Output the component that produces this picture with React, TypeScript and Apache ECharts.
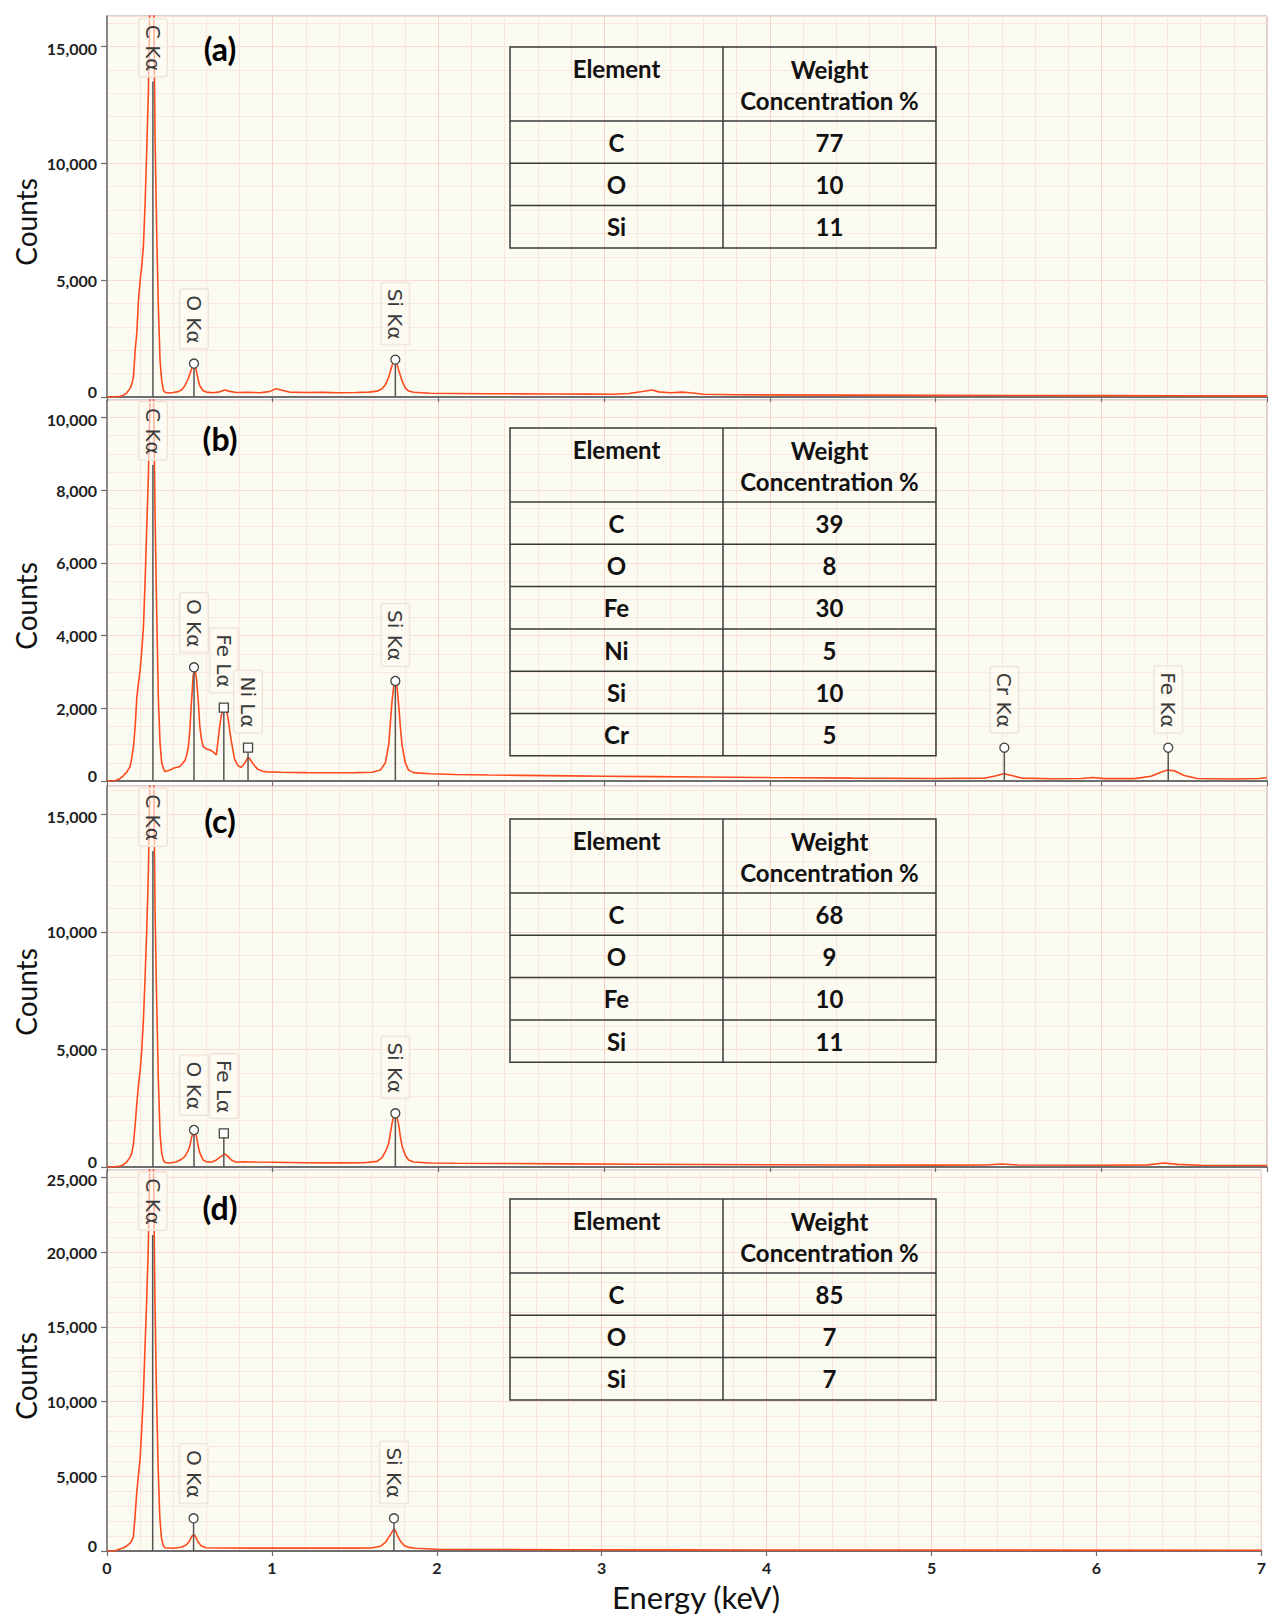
import React, { useEffect, useRef } from 'react';
import * as echarts from 'echarts';

// ---------- data ----------
// EDS spectra: [energy keV, counts]
const spectrumA: number[][] = [
  [0.00, 0], [0.05, 5], [0.08, 30], [0.10, 80], [0.12, 180], [0.14, 380], [0.15, 560], [0.16, 880],
  [0.17, 2000], [0.18, 2750], [0.19, 4150], [0.20, 5000], [0.21, 5600], [0.22, 6500], [0.23, 8300],
  [0.24, 10600], [0.25, 13150], [0.26, 17500], [0.27, 19800], [0.28, 18200], [0.29, 11100], [0.30, 7000],
  [0.31, 3850], [0.32, 1570], [0.33, 710], [0.34, 290], [0.35, 200], [0.37, 170], [0.40, 190], [0.43, 230],
  [0.45, 300], [0.47, 480], [0.49, 780], [0.51, 1200], [0.52, 1400], [0.53, 1380], [0.54, 1100], [0.55, 750],
  [0.56, 480], [0.58, 270], [0.60, 210], [0.64, 180], [0.68, 220], [0.71, 300], [0.74, 240], [0.78, 190],
  [0.85, 200], [0.92, 185], [0.98, 230], [1.02, 350], [1.05, 300], [1.10, 210], [1.20, 190], [1.30, 200],
  [1.40, 185], [1.50, 195], [1.58, 210], [1.63, 250], [1.66, 350], [1.68, 520], [1.70, 850], [1.72, 1350],
  [1.73, 1550], [1.74, 1560], [1.75, 1400], [1.76, 1150], [1.78, 700], [1.80, 380], [1.82, 260], [1.85, 200],
  [1.95, 160], [2.10, 150], [2.30, 140], [2.50, 135], [2.70, 130], [2.90, 125], [3.05, 120], [3.15, 150],
  [3.25, 260], [3.29, 300], [3.33, 220], [3.40, 180], [3.47, 210], [3.52, 180], [3.60, 120], [3.80, 95],
  [4.00, 90], [4.50, 80], [5.00, 70], [5.50, 65], [6.00, 60], [6.50, 55], [7.00, 50],
];

const spectrumB: number[][] = [
  [0.00, 0], [0.05, 5], [0.08, 70], [0.10, 150], [0.12, 250], [0.14, 400], [0.15, 650], [0.16, 950],
  [0.17, 1500], [0.18, 2300], [0.19, 2700], [0.20, 3050], [0.21, 3600], [0.22, 4250], [0.23, 5500],
  [0.24, 7000], [0.25, 8450], [0.26, 10700], [0.27, 12000], [0.28, 11000], [0.29, 7350], [0.30, 4600],
  [0.31, 2250], [0.32, 1050], [0.33, 500], [0.34, 350], [0.35, 260], [0.38, 300], [0.40, 350], [0.44, 400],
  [0.47, 560], [0.48, 700], [0.49, 900], [0.50, 1400], [0.51, 2200], [0.52, 2900], [0.53, 3100], [0.54, 2800],
  [0.55, 2250], [0.56, 1500], [0.57, 1150], [0.58, 950], [0.60, 880], [0.62, 860], [0.64, 800], [0.66, 720],
  [0.68, 1500], [0.69, 1800], [0.70, 2000], [0.71, 2080], [0.72, 1950], [0.73, 1750], [0.74, 1400],
  [0.75, 1100], [0.77, 600], [0.79, 420], [0.81, 380], [0.83, 480], [0.85, 650], [0.86, 620], [0.88, 480],
  [0.91, 320], [0.94, 270], [0.97, 250], [1.05, 240], [1.20, 230], [1.35, 225], [1.50, 230], [1.60, 240],
  [1.65, 300], [1.68, 500], [1.70, 1000], [1.72, 2200], [1.73, 2600], [1.74, 2750], [1.75, 2600], [1.76, 2100],
  [1.77, 1500], [1.78, 1000], [1.80, 500], [1.82, 300], [1.85, 230], [1.95, 200], [2.10, 180], [2.30, 165],
  [2.50, 155], [2.80, 140], [3.00, 130], [3.30, 120], [3.60, 110], [4.00, 95], [4.50, 80], [5.00, 70],
  [5.30, 80], [5.36, 140], [5.41, 200], [5.46, 150], [5.52, 80], [5.70, 60], [5.88, 70], [5.95, 95],
  [6.02, 65], [6.20, 65], [6.30, 130], [6.36, 240], [6.40, 300], [6.44, 280], [6.50, 150], [6.58, 70],
  [6.80, 55], [6.95, 70], [7.00, 90],
];

const spectrumC: number[][] = [
  [0.00, 0], [0.05, 5], [0.08, 40], [0.10, 100], [0.12, 220], [0.14, 430], [0.15, 600], [0.16, 1000],
  [0.17, 1800], [0.18, 2700], [0.19, 3500], [0.20, 4100], [0.21, 5000], [0.22, 6300], [0.23, 8100],
  [0.24, 10100], [0.25, 12600], [0.26, 17000], [0.27, 19500], [0.28, 18000], [0.29, 10900], [0.30, 6950],
  [0.31, 3700], [0.32, 1420], [0.33, 600], [0.34, 300], [0.35, 190], [0.38, 170], [0.42, 220], [0.45, 330],
  [0.47, 450], [0.49, 700], [0.50, 900], [0.51, 1250], [0.52, 1450], [0.53, 1500], [0.54, 1300], [0.55, 900],
  [0.56, 600], [0.58, 300], [0.60, 220], [0.63, 200], [0.66, 300], [0.69, 450], [0.71, 560], [0.73, 450],
  [0.75, 300], [0.78, 200], [0.82, 220], [0.90, 210], [1.00, 200], [1.20, 180], [1.40, 175], [1.55, 180],
  [1.63, 240], [1.66, 400], [1.68, 650], [1.70, 1000], [1.72, 1850], [1.73, 2150], [1.74, 2250], [1.75, 2100],
  [1.76, 1800], [1.77, 1300], [1.78, 900], [1.80, 500], [1.82, 300], [1.85, 210], [1.95, 170], [2.10, 160],
  [2.40, 150], [2.80, 135], [3.20, 120], [3.60, 105], [4.00, 95], [4.50, 85], [5.00, 80], [5.30, 85],
  [5.40, 130], [5.50, 85], [6.00, 75], [6.28, 90], [6.38, 170], [6.46, 110], [6.60, 75], [7.00, 65],
];

const spectrumD: number[][] = [
  [0.00, 0], [0.05, 10], [0.08, 150], [0.10, 200], [0.12, 350], [0.14, 520], [0.15, 700], [0.16, 960],
  [0.17, 2300], [0.18, 3850], [0.19, 5000], [0.20, 6100], [0.21, 8000], [0.22, 10300], [0.23, 13450],
  [0.24, 16600], [0.25, 20150], [0.26, 26500], [0.27, 30000], [0.28, 28000], [0.29, 17250], [0.30, 10550],
  [0.31, 5650], [0.32, 2300], [0.33, 900], [0.34, 400], [0.35, 220], [0.40, 180], [0.45, 250], [0.48, 400],
  [0.50, 650], [0.51, 900], [0.52, 1050], [0.53, 1070], [0.54, 900], [0.55, 650], [0.57, 350], [0.60, 220],
  [0.70, 200], [0.90, 195], [1.10, 200], [1.30, 190], [1.50, 190], [1.60, 200], [1.66, 320], [1.69, 600],
  [1.71, 950], [1.73, 1300], [1.74, 1450], [1.75, 1350], [1.76, 1050], [1.78, 650], [1.80, 380], [1.83, 240],
  [1.87, 180], [2.00, 120], [2.30, 100], [2.80, 85], [3.50, 75], [4.50, 65], [5.50, 60], [7.00, 55],
];

// peak markers: energy, marker height (counts), symbol, label
type Peak = { e: number; y: number; sym: 'none' | 'circle' | 'square'; label: string };
const peaksA: Peak[] = [
  { e: 0.277, y: 13500, sym: 'none', label: 'C Kα' },
  { e: 0.525, y: 1430, sym: 'circle', label: 'O Kα' },
  { e: 1.740, y: 1600, sym: 'circle', label: 'Si Kα' },
];
const peaksB: Peak[] = [
  { e: 0.277, y: 8700, sym: 'none', label: 'C Kα' },
  { e: 0.525, y: 3127, sym: 'circle', label: 'O Kα' },
  { e: 0.705, y: 2016, sym: 'square', label: 'Fe Lα' },
  { e: 0.851, y: 916, sym: 'square', label: 'Ni Lα' },
  { e: 1.740, y: 2751, sym: 'circle', label: 'Si Kα' },
  { e: 5.415, y: 916, sym: 'circle', label: 'Cr Kα' },
  { e: 6.404, y: 916, sym: 'circle', label: 'Fe Kα' },
];
const peaksC: Peak[] = [
  { e: 0.277, y: 13440, sym: 'none', label: 'C Kα' },
  { e: 0.525, y: 1573, sym: 'circle', label: 'O Kα' },
  { e: 0.705, y: 1433, sym: 'square', label: 'Fe Lα' },
  { e: 1.740, y: 2283, sym: 'circle', label: 'Si Kα' },
];
const peaksD: Peak[] = [
  { e: 0.277, y: 21150, sym: 'none', label: 'C Kα' },
  { e: 0.525, y: 2188, sym: 'circle', label: 'O Kα' },
  { e: 1.740, y: 2188, sym: 'circle', label: 'Si Kα' },
];

// composition tables
const elementsA = ['C', 'O', 'Si'];
const weightsA = [77, 10, 11];
const elementsB = ['C', 'O', 'Fe', 'Ni', 'Si', 'Cr'];
const weightsB = [39, 8, 30, 5, 10, 5];
const elementsC = ['C', 'O', 'Fe', 'Si'];
const weightsC = [68, 9, 10, 11];
const elementsD = ['C', 'O', 'Si'];
const weightsD = [85, 7, 7];

const panelLetters = ['(a)', '(b)', '(c)', '(d)'];
const yMaxes = [16300, 10480, 16200, 25500];
const yIntervals = [5000, 2000, 5000, 5000];
const yMinorIntervals = [1000, 500, 1000, 1000];
const xTicks = { min: 0, max: 7, interval: 1 };

// ---------- layout ----------
const W = 1269;
const H = 1615;
const GRID_LEFT = 107;
const GRID_RIGHT = 2;
const GRID_H = 381;
const gridTops = [16, 400, 786, 1170];
const letterOffsets = [32, 38, 34, 37];
const tableTops = [47, 428, 819, 1199];
const TABLE_L = 510;
const TABLE_M = 723;
const TABLE_R = 936;
const HEAD_H = 74;
const ROW_H = 42.3;

const BG = '#fcfbf1';
const LINE_RED = '#ff4a1e';
const AXIS_GRAY = '#6e6e6e';
const LABEL_FONT = '"DejaVu Sans", "Open Sans", sans-serif';
const BOLD_FONT = 'Lato, "Open Sans", sans-serif';

function makeRenderItem(peaks: Peak[]) {
  return (params: any, api: any) => {
    const pk = peaks[params.dataIndex];
    const base = api.coord([pk.e, 0]);
    const top = api.coord([pk.e, pk.y]);
    const children: any[] = [
      {
        type: 'line',
        shape: { x1: base[0], y1: base[1], x2: top[0], y2: top[1] },
        style: { stroke: '#555555', lineWidth: 1.5 },
      },
    ];
    if (pk.sym === 'circle') {
      children.push({
        type: 'circle',
        shape: { cx: top[0], cy: top[1], r: 4.5 },
        style: { fill: '#ffffff', stroke: '#444444', lineWidth: 1.3 },
      });
    } else if (pk.sym === 'square') {
      children.push({
        type: 'rect',
        shape: { x: top[0] - 4.5, y: top[1] - 4.5, width: 9, height: 9 },
        style: { fill: '#ffffff', stroke: '#444444', lineWidth: 1.3 },
      });
    }
    const gap = pk.sym === 'none' ? 5 : 15;
    children.push({
      type: 'text',
      x: top[0],
      y: top[1] - gap,
      rotation: -Math.PI / 2,
      style: {
        text: pk.label,
        font: '20px ' + LABEL_FONT,
        fill: '#3a3a3a',
        textAlign: 'right',
        textVerticalAlign: 'middle',
        align: 'right',
        verticalAlign: 'middle',
        backgroundColor: 'rgba(253,251,243,0.6)',
        borderColor: '#efe2d6',
        borderWidth: 1,
        borderRadius: 2,
        padding: [4, 5, 4, 6],
      },
    });
    return { type: 'group', children };
  };
}

function tableGraphics(top: number, elements: string[], weights: number[]) {
  const out: any[] = [];
  const bottom = top + HEAD_H + ROW_H * elements.length;
  const stroke = { stroke: '#3a3a3a', lineWidth: 1.5, fill: null };
  out.push({
    type: 'rect', z: 100,
    shape: { x: TABLE_L, y: top, width: TABLE_R - TABLE_L, height: bottom - top },
    style: { ...stroke, fill: 'rgba(0,0,0,0)' },
  });
  out.push({ type: 'line', z: 100, shape: { x1: TABLE_M, y1: top, x2: TABLE_M, y2: bottom }, style: stroke });
  for (let r = 0; r < elements.length; r++) {
    const y = top + HEAD_H + ROW_H * r;
    out.push({ type: 'line', z: 100, shape: { x1: TABLE_L, y1: y, x2: TABLE_R, y2: y }, style: stroke });
  }
  const txt = (s: string, x: number, y: number) => ({
    type: 'text', z: 101, x, y,
    style: {
      text: s, font: 'bold 24px ' + BOLD_FONT, fill: '#111111',
      textAlign: 'center', textVerticalAlign: 'middle', align: 'center', verticalAlign: 'middle',
    },
  });
  const c1 = (TABLE_L + TABLE_M) / 2;
  const c2 = (TABLE_M + TABLE_R) / 2;
  out.push(txt('Element', c1, top + 21));
  out.push(txt('Weight', c2, top + 22));
  out.push(txt('Concentration %', c2, top + 53));
  elements.forEach((el, r) => {
    const y = top + HEAD_H + ROW_H * r + ROW_H / 2;
    out.push(txt(el, c1, y));
    out.push(txt(String(weights[r]), c2, y));
  });
  return out;
}

export default function App() {
  const ref = useRef<HTMLDivElement>(null);

  useEffect(() => {
    document.body.style.margin = '0';
    if (!ref.current) return;
    const chart = echarts.init(ref.current, undefined, { renderer: 'svg' });

    const spectra = [spectrumA, spectrumB, spectrumC, spectrumD];
    const peaks = [peaksA, peaksB, peaksC, peaksD];
    const tables: [string[], number[]][] = [
      [elementsA, weightsA], [elementsB, weightsB], [elementsC, weightsC], [elementsD, weightsD],
    ];

    const grid = gridTops.map((t) => ({
      left: GRID_LEFT, right: GRID_RIGHT, top: t, height: GRID_H,
      show: true, backgroundColor: BG, borderColor: '#a5a5a5', borderWidth: 1,
    }));

    const xAxis = gridTops.map((_, i) => ({
      type: 'value', gridIndex: i, min: xTicks.min, max: xTicks.max, interval: xTicks.interval,
      axisLine: { show: true, onZero: false, lineStyle: { color: AXIS_GRAY, width: 1.8 } },
      axisTick: { show: true, length: 5, lineStyle: { color: AXIS_GRAY, width: 1.2 } },
      axisLabel: {
        show: i === 3, margin: 8, fontFamily: BOLD_FONT, fontWeight: 'bold', fontSize: 16, color: '#1e1e1e',
        formatter: (v: number) => String(v),
      },
      splitLine: { show: true, lineStyle: { color: '#f6d2cb', width: 1 } },
      minorTick: { show: false, splitNumber: 5 },
      minorSplitLine: { show: true, lineStyle: { color: '#fae5df', width: 1 } },
      z: 3,
    }));

    const labelStyle = { fontFamily: BOLD_FONT, fontWeight: 'bold' as const, fontSize: 16, color: '#1e1e1e' };
    const yAxis: any[] = [];
    gridTops.forEach((_, i) => {
      const isTopTick = (v: number) => v + yIntervals[i] > yMaxes[i];
      yAxis.push({
        type: 'value', gridIndex: i, min: 0, max: yMaxes[i], interval: yIntervals[i], position: 'left',
        axisLine: { show: true, lineStyle: { color: AXIS_GRAY, width: 1.5 } },
        axisTick: { show: true, length: 6, lineStyle: { color: AXIS_GRAY, width: 1.2 } },
        axisLabel: {
          margin: 10, ...labelStyle,
          showMaxLabel: false,
          formatter: (v: number) => {
            if (v === 0) return '{z|0}';
            if (v % yIntervals[i] !== 0) return '';
            const s = v.toLocaleString('en-US');
            return isTopTick(v) ? '{t|' + s + '}' : s;
          },
          rich: {
            z: { ...labelStyle, padding: [0, 0, 12, 0] },
            t: { ...labelStyle, padding: [5, 0, 0, 0] },
          },
        },
        splitLine: { show: true, lineStyle: { color: '#f8dbd5', width: 1 } },
        z: 3,
      });
      yAxis.push({
        type: 'value', gridIndex: i, min: 0, max: yMaxes[i], interval: yMinorIntervals[i], position: 'right',
        axisLine: { show: false }, axisTick: { show: false }, axisLabel: { show: false },
        splitLine: { show: true, lineStyle: { color: '#fbe7e2', width: 1 } },
        z: 2,
      });
    });

    const series: any[] = [];
    spectra.forEach((sp, i) => {
      series.push({
        type: 'line', xAxisIndex: i, yAxisIndex: 2 * i, data: sp,
        symbol: 'none', showSymbol: false, clip: true,
        lineStyle: { color: LINE_RED, width: 1.6 }, z: 3,
      });
      series.push({
        type: 'custom', xAxisIndex: i, yAxisIndex: 2 * i,
        data: peaks[i].map((p) => [p.e, p.y]),
        renderItem: makeRenderItem(peaks[i]), z: 6, clip: false,
      });
    });

    const graphic: any[] = [];
    gridTops.forEach((t, i) => {
      graphic.push({
        type: 'text', z: 100, x: 220, y: t + letterOffsets[i],
        style: {
          text: panelLetters[i], font: 'bold 32px ' + BOLD_FONT, fill: '#000000',
          textAlign: 'center', textVerticalAlign: 'middle', align: 'center', verticalAlign: 'middle',
        },
      });
      graphic.push({
        type: 'text', z: 100, x: 26, y: t + 206, rotation: Math.PI / 2,
        style: {
          text: 'Counts', font: '28px ' + BOLD_FONT, fill: '#111111',
          textAlign: 'center', textVerticalAlign: 'middle', align: 'center', verticalAlign: 'middle',
        },
      });
      graphic.push(...tableGraphics(tableTops[i], tables[i][0], tables[i][1]));
    });
    graphic.push({
      type: 'text', z: 100, x: 696, y: 1597,
      style: {
        text: 'Energy (keV)', font: '31px ' + BOLD_FONT, fill: '#111111',
        textAlign: 'center', textVerticalAlign: 'middle', align: 'center', verticalAlign: 'middle',
      },
    });

    chart.setOption({
      animation: false,
      backgroundColor: '#ffffff',
      grid, xAxis, yAxis, series, graphic,
    });

    return () => chart.dispose();
  }, []);

  return <div ref={ref} style={{ width: W, height: H }} />;
}
